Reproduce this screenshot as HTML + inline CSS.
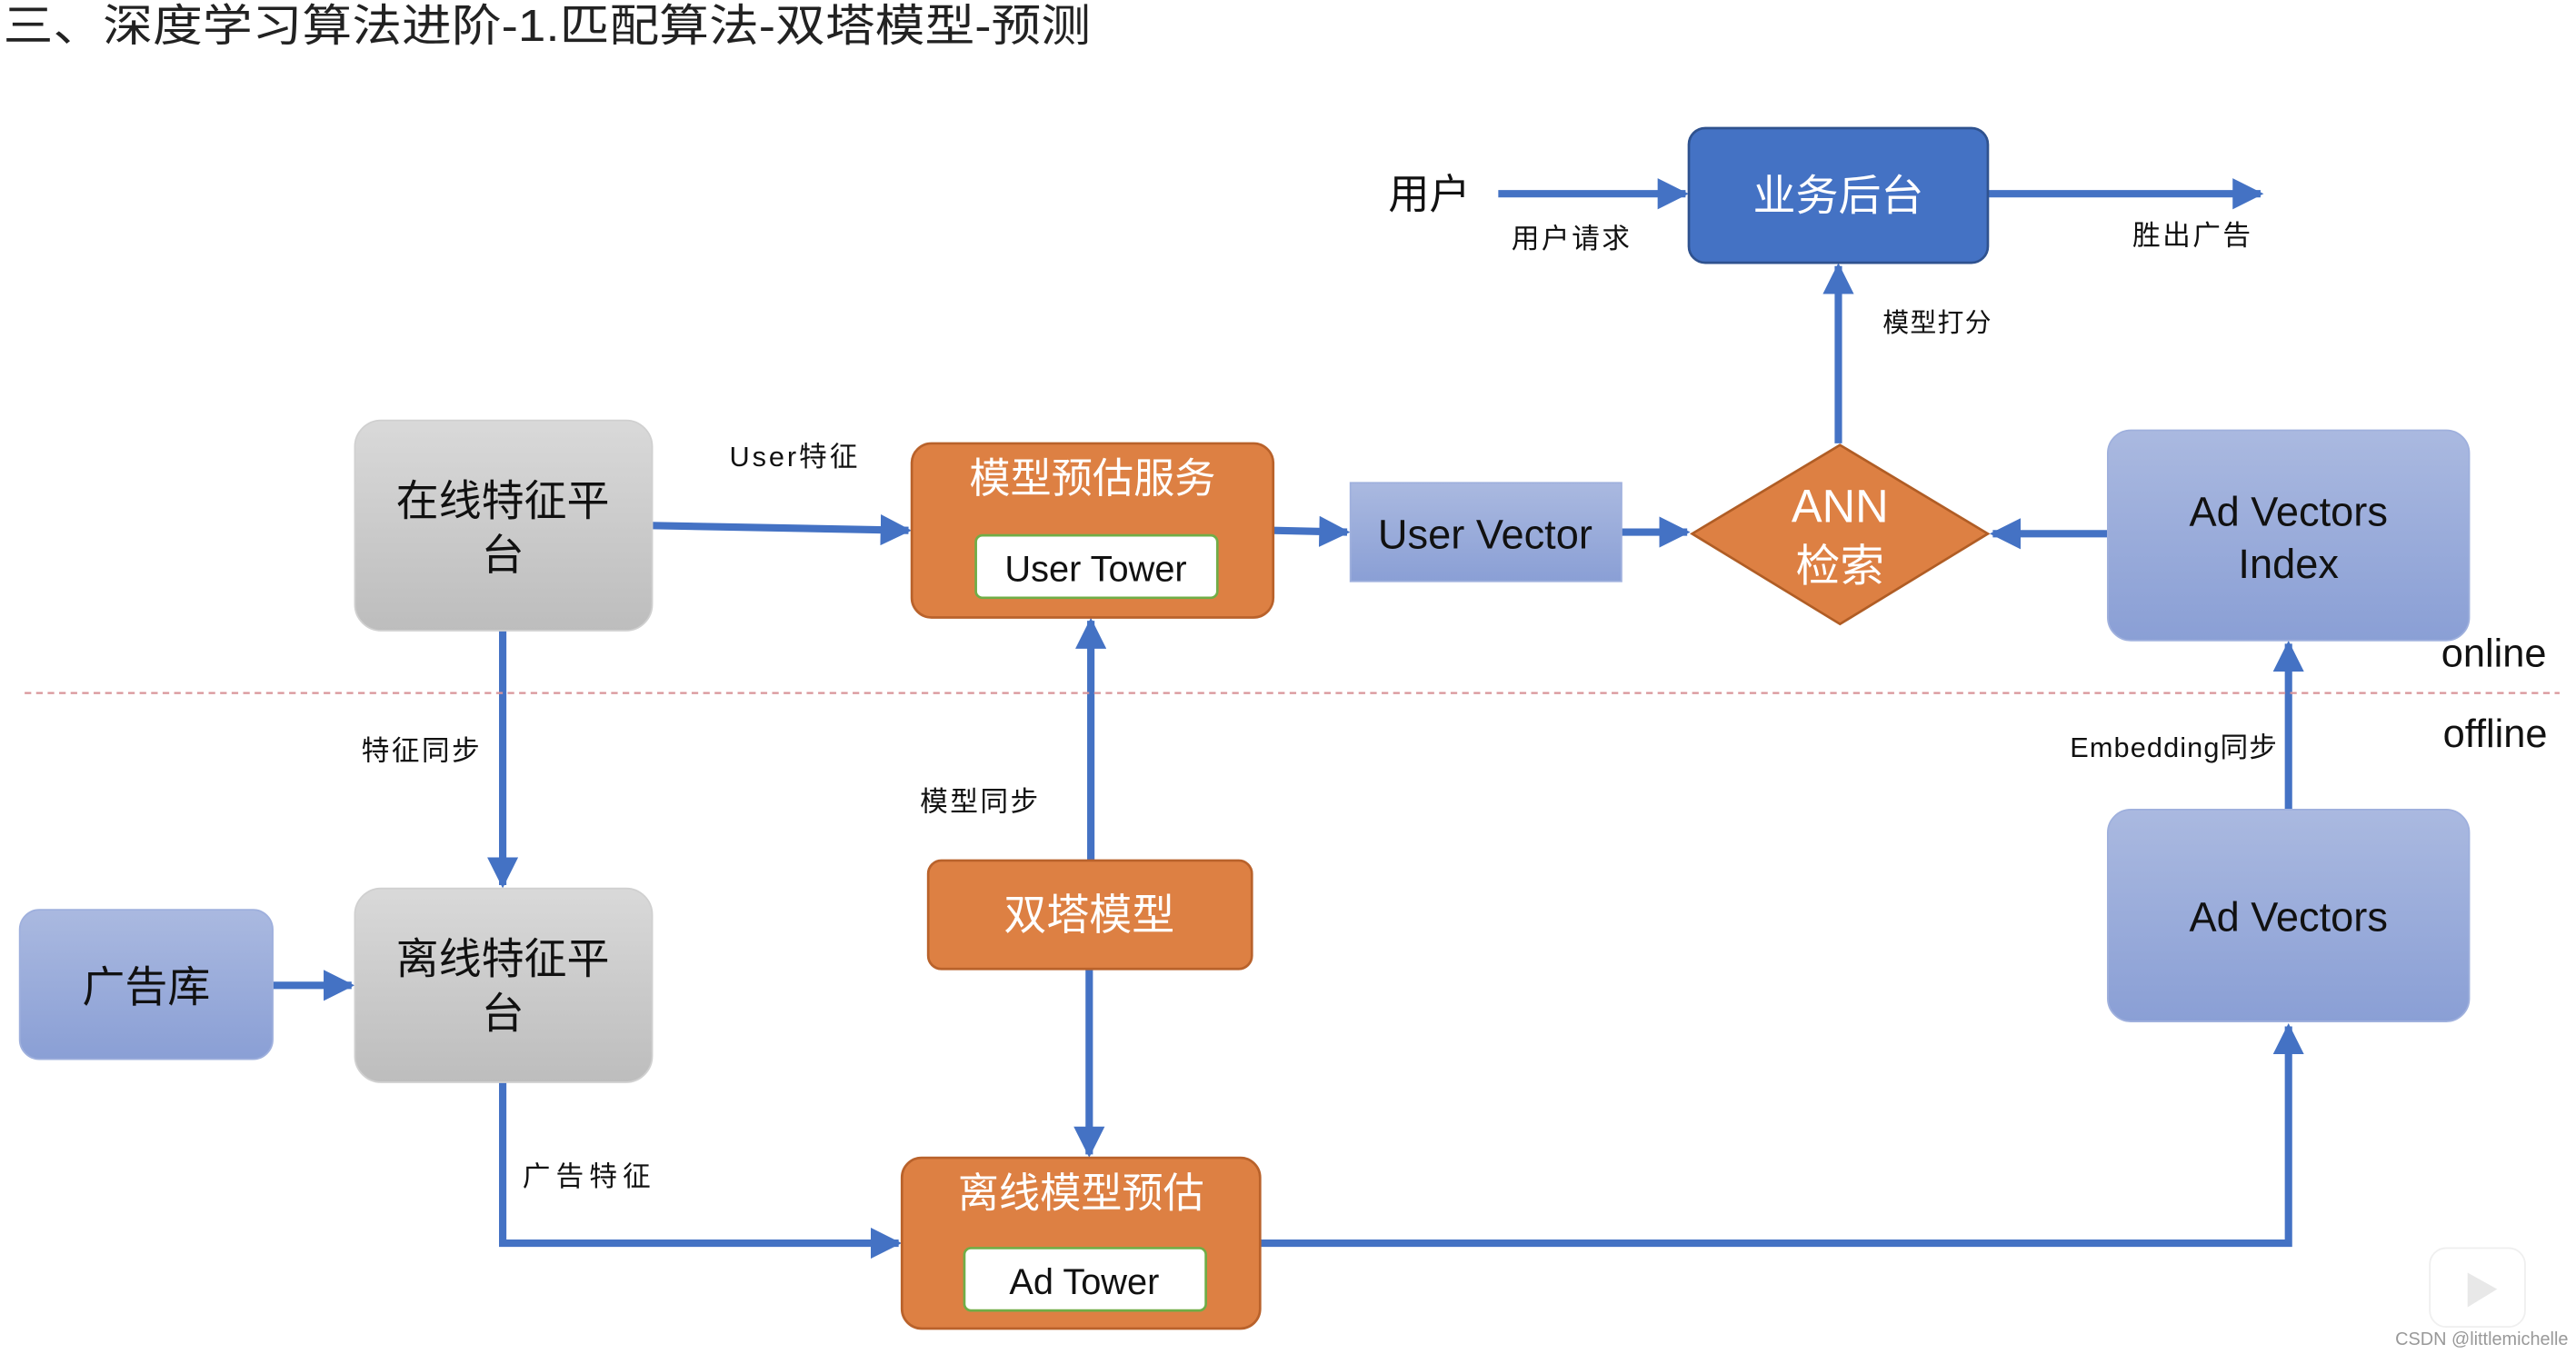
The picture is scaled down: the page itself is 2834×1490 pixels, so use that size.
<!DOCTYPE html>
<html><head><meta charset="utf-8"><style>
html,body{margin:0;padding:0;background:#fff;width:2834px;height:1490px;overflow:hidden}
svg{display:block}
text{font-family:"Liberation Sans","Noto Sans CJK SC",sans-serif}
</style></head><body>
<svg width="2834" height="1490" viewBox="0 0 1568 824.5" preserveAspectRatio="none" xmlns="http://www.w3.org/2000/svg">
<defs>
<linearGradient id="gb" x1="0" y1="0" x2="0" y2="1"><stop offset="0" stop-color="#aab9e0"/><stop offset="1" stop-color="#8a9fd5"/></linearGradient>
<linearGradient id="gg" x1="0" y1="0" x2="0" y2="1"><stop offset="0" stop-color="#d9d9d9"/><stop offset="1" stop-color="#bdbdbd"/></linearGradient>
<marker id="ah" viewBox="0 0 10 10" refX="9" refY="5" markerWidth="4.2" markerHeight="4.2" orient="auto" markerUnits="strokeWidth"><path d="M0,0 L10,5 L0,10 z" fill="#4472c4"/></marker>
</defs>
<text x="2" y="25" font-size="27" fill="#222" textLength="662" lengthAdjust="spacingAndGlyphs">三、深度学习算法进阶-1.匹配算法-双塔模型-预测</text>

<g stroke="#4472c4" stroke-width="4.5" fill="none">
<line x1="912" y1="118" x2="1026" y2="118" marker-end="url(#ah)"/>
<line x1="1210" y1="118" x2="1376" y2="118" marker-end="url(#ah)"/>
<line x1="1119" y1="270" x2="1119" y2="162" marker-end="url(#ah)"/>
<line x1="1283" y1="325" x2="1213" y2="325" marker-end="url(#ah)"/>
<line x1="987" y1="324" x2="1027" y2="324" marker-end="url(#ah)"/>
<line x1="775" y1="323" x2="820" y2="324" marker-end="url(#ah)"/>
<line x1="397" y1="320" x2="553" y2="323" marker-end="url(#ah)"/>
<line x1="306" y1="384" x2="306" y2="539" marker-end="url(#ah)"/>
<line x1="166" y1="600" x2="214" y2="600" marker-end="url(#ah)"/>
<line x1="664" y1="524" x2="664" y2="378" marker-end="url(#ah)"/>
<line x1="663" y1="590" x2="663" y2="703" marker-end="url(#ah)"/>
<polyline points="306,659 306,757 547,757" marker-end="url(#ah)"/>
<polyline points="767,757 1393,757 1393,625" marker-end="url(#ah)"/>
<line x1="1393" y1="493" x2="1393" y2="392" marker-end="url(#ah)"/>
</g>

<line x1="15" y1="422" x2="1558" y2="422" stroke="#d9959a" stroke-width="1.2" stroke-dasharray="4,3"/>
<text x="1486" y="406" font-size="24" fill="#111">online</text>
<text x="1487" y="455" font-size="24" fill="#111">offline</text>

<text x="845" y="127" font-size="25" fill="#111" textLength="50">用户</text>
<text x="920" y="151" font-size="17" fill="#111" textLength="72">用户请求</text>
<text x="1298" y="149" font-size="17" fill="#111" textLength="72">胜出广告</text>
<text x="1146" y="202" font-size="16" fill="#111" textLength="66">模型打分</text>
<text x="444" y="284" font-size="17" fill="#111" textLength="78">User特征</text>
<text x="220" y="463" font-size="17" fill="#111" textLength="72">特征同步</text>
<text x="560" y="494" font-size="17" fill="#111" textLength="72">模型同步</text>
<text x="318" y="722" font-size="17" fill="#111" textLength="78">广告特征</text>
<text x="1260" y="461" font-size="17" fill="#111" textLength="126">Embedding同步</text>

<rect x="1028" y="78" width="182" height="82" rx="10" fill="#4472c4" stroke="#2f528f" stroke-width="1.5"/>
<text x="1119" y="128" font-size="26" fill="#fff" text-anchor="middle">业务后台</text>

<polygon points="1120,271 1210,325 1120,380 1030,325" fill="#dd8043" stroke="#b05d25" stroke-width="1.5"/>
<text x="1120" y="318" font-size="28" fill="#fff" text-anchor="middle">ANN</text>
<text x="1120" y="354" font-size="27" fill="#fff" text-anchor="middle">检索</text>

<rect x="1283" y="262" width="220" height="128" rx="14" fill="url(#gb)" stroke="#9fb0dd" stroke-width="1"/>
<text x="1393" y="320" font-size="25" fill="#111" text-anchor="middle">Ad Vectors</text>
<text x="1393" y="352" font-size="25" fill="#111" text-anchor="middle">Index</text>

<rect x="1283" y="493" width="220" height="129" rx="14" fill="url(#gb)" stroke="#9fb0dd" stroke-width="1"/>
<text x="1393" y="567" font-size="25" fill="#111" text-anchor="middle">Ad Vectors</text>

<rect x="822" y="294" width="165" height="60" fill="url(#gb)" stroke="#9fb0dd" stroke-width="1"/>
<text x="904" y="334" font-size="25" fill="#111" text-anchor="middle">User Vector</text>

<rect x="555" y="270" width="220" height="106" rx="12" fill="#dd8043" stroke="#b9622b" stroke-width="1.5"/>
<text x="665" y="300" font-size="25" fill="#fff" text-anchor="middle">模型预估服务</text>
<rect x="594" y="326" width="147" height="38" rx="4" fill="#fff" stroke="#70ad47" stroke-width="1.5"/>
<text x="667" y="354" font-size="22" fill="#111" text-anchor="middle">User Tower</text>

<rect x="216" y="256" width="181" height="128" rx="16" fill="url(#gg)" stroke="#d0d0d0" stroke-width="1"/>
<text x="306" y="314" font-size="26" fill="#111" text-anchor="middle">在线特征平</text>
<text x="306" y="347" font-size="26" fill="#111" text-anchor="middle">台</text>

<rect x="12" y="554" width="154" height="91" rx="12" fill="url(#gb)" stroke="#9fb0dd" stroke-width="1"/>
<text x="89" y="610" font-size="26" fill="#111" text-anchor="middle">广告库</text>

<rect x="216" y="541" width="181" height="118" rx="16" fill="url(#gg)" stroke="#d0d0d0" stroke-width="1"/>
<text x="306" y="593" font-size="26" fill="#111" text-anchor="middle">离线特征平</text>
<text x="306" y="626" font-size="26" fill="#111" text-anchor="middle">台</text>

<rect x="565" y="524" width="197" height="66" rx="8" fill="#dd8043" stroke="#b9622b" stroke-width="1.5"/>
<text x="663" y="566" font-size="26" fill="#fff" text-anchor="middle">双塔模型</text>

<rect x="549" y="705" width="218" height="104" rx="12" fill="#dd8043" stroke="#b9622b" stroke-width="1.5"/>
<text x="658" y="735" font-size="25" fill="#fff" text-anchor="middle">离线模型预估</text>
<rect x="587" y="760" width="147" height="38" rx="4" fill="#fff" stroke="#70ad47" stroke-width="1.5"/>
<text x="660" y="788" font-size="22" fill="#111" text-anchor="middle">Ad Tower</text>

<g opacity="0.9">
<rect x="1479" y="760" width="58" height="48" rx="10" fill="#fff" stroke="#eee" stroke-width="1"/>
<path d="M1502,775 L1520,785 L1502,796 z" fill="#e6e6e6"/>
</g>
<text x="1458" y="819" font-size="11" fill="#999">CSDN @littlemichelle</text>
</svg>
</body></html>
